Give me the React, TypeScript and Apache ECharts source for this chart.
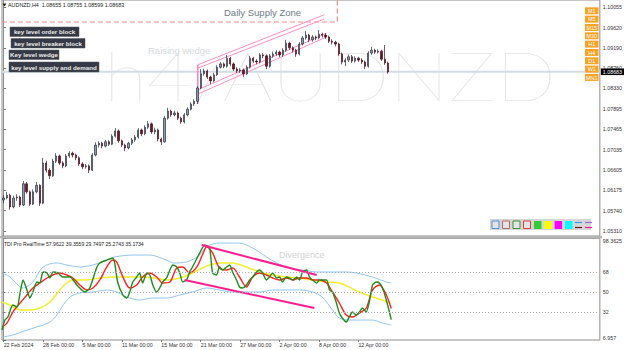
import React, { useEffect, useRef } from 'react';
import * as echarts from 'echarts';

const SYMBOL = 'AUDNZD,H4';
const HEADER_OHLC = ['1.08655', '1.08755', '1.08599', '1.08683'];
const CURRENT_PRICE = 1.08683;
const WATERMARK = 'h4/AUDNZD';
const TDI_HEADER = 'TDI Pro RealTime 57.9622 39.3559 29.7497 25.2743 35.1734';
const KEY_BUTTONS = ['key level order block', 'key level breaker block', 'Key level wedge', 'key level supply and demand'];
const TF_BUTTONS = ['M1', 'M5', 'M15', 'M30', 'H1', 'H4', 'D1', 'W1', 'MN1'];

const DATE_INDEX = [0, 12, 24, 36, 48, 60, 72, 84, 96, 108];
const DATE_LABELS = ['22 Feb 2024', '28 Feb 00:00', '5 Mar 00:00', '11 Mar 00:00', '15 Mar 00:00', '21 Mar 00:00', '27 Mar 00:00', '2 Apr 00:00', '8 Apr 00:00', '12 Apr 00:00'];
const PRICE_TICKS = [1.0531, 1.0574, 1.06175, 1.06605, 1.07035, 1.07465, 1.07895, 1.0833, 1.0876, 1.0919, 1.0962, 1.10055];
const PRICE_MIN = 1.05205;
const PRICE_MAX = 1.10203;
const TDI_TICKS = [6.957, 32, 50, 68, 98.3625];
const TDI_LEVELS = [68, 50, 32];
const SLOTS = 182;

const OPENS = [1.0597,1.0601,1.0607,1.0582,1.0601,1.0603,1.0586,1.0631,1.0614,1.0588,
1.0614,1.0628,1.0590,1.0675,1.0660,1.0648,1.0679,1.0690,1.0675,1.0669,
1.0690,1.0696,1.0692,1.0686,1.0673,1.0667,1.0669,1.0660,1.0692,1.0713,
1.0717,1.0711,1.0720,1.0715,1.0732,1.0743,1.0722,1.0713,1.0707,1.0717,
1.0724,1.0730,1.0745,1.0737,1.0751,1.0758,1.0741,1.0745,1.0726,1.0720,
1.0770,1.0785,1.0777,1.0781,1.0770,1.0762,1.0777,1.0789,1.0800,1.0806,
1.0834,1.0864,1.0870,1.0857,1.0849,1.0862,1.0878,1.0885,1.0880,1.0897,
1.0885,1.0874,1.0870,1.0872,1.0864,1.0878,1.0897,1.0891,1.0889,1.0904,
1.0902,1.0880,1.0902,1.0906,1.0910,1.0904,1.0914,1.0929,1.0919,1.0914,
1.0906,1.0927,1.0940,1.0946,1.0936,1.0942,1.0940,1.0948,1.0946,1.0942,
1.0933,1.0931,1.0927,1.0906,1.0889,1.0893,1.0900,1.0891,1.0897,1.0893,
1.0889,1.0880,1.0908,1.0914,1.0910,1.0912,1.0895,1.0887];
const CLOSES = [1.0601,1.0607,1.0582,1.0601,1.0603,1.0586,1.0631,1.0614,1.0588,1.0614,
1.0628,1.0590,1.0675,1.0660,1.0648,1.0679,1.0690,1.0675,1.0669,1.0690,
1.0696,1.0692,1.0686,1.0673,1.0667,1.0669,1.0660,1.0692,1.0713,1.0717,
1.0711,1.0720,1.0715,1.0732,1.0743,1.0722,1.0713,1.0707,1.0717,1.0724,
1.0730,1.0745,1.0737,1.0751,1.0758,1.0741,1.0745,1.0726,1.0720,1.0770,
1.0785,1.0777,1.0781,1.0770,1.0762,1.0777,1.0789,1.0800,1.0806,1.0834,
1.0864,1.0870,1.0857,1.0849,1.0862,1.0878,1.0885,1.0880,1.0897,1.0885,
1.0874,1.0870,1.0872,1.0864,1.0878,1.0897,1.0891,1.0889,1.0904,1.0902,
1.0880,1.0902,1.0906,1.0910,1.0904,1.0914,1.0929,1.0919,1.0914,1.0906,
1.0927,1.0940,1.0946,1.0936,1.0942,1.0940,1.0948,1.0946,1.0942,1.0933,
1.0931,1.0927,1.0906,1.0889,1.0893,1.0900,1.0891,1.0897,1.0893,1.0889,
1.0880,1.0908,1.0914,1.0910,1.0912,1.0895,1.0887,1.0868];
const LOWS = [1.0590,1.0598,1.0576,1.0579,1.0595,1.0582,1.0584,1.0610,1.0584,1.0586,
1.0611,1.0584,1.0588,1.0655,1.0641,1.0645,1.0675,1.0671,1.0664,1.0666,
1.0686,1.0687,1.0681,1.0669,1.0662,1.0663,1.0654,1.0658,1.0689,1.0708,
1.0706,1.0708,1.0711,1.0713,1.0729,1.0718,1.0709,1.0700,1.0704,1.0713,
1.0720,1.0727,1.0732,1.0734,1.0747,1.0737,1.0736,1.0721,1.0713,1.0718,
1.0767,1.0773,1.0774,1.0766,1.0758,1.0759,1.0774,1.0786,1.0796,1.0800,
1.0831,1.0860,1.0853,1.0842,1.0846,1.0859,1.0875,1.0876,1.0877,1.0881,
1.0870,1.0866,1.0866,1.0857,1.0861,1.0875,1.0887,1.0884,1.0886,1.0897,
1.0874,1.0877,1.0898,1.0902,1.0899,1.0900,1.0911,1.0915,1.0909,1.0900,
1.0903,1.0924,1.0936,1.0931,1.0932,1.0935,1.0937,1.0941,1.0938,1.0929,
1.0926,1.0922,1.0902,1.0884,1.0880,1.0889,1.0887,1.0888,1.0889,1.0885,
1.0874,1.0877,1.0904,1.0906,1.0907,1.0891,1.0883,1.0864];
const HIGHS = [1.0608,1.0614,1.0610,1.0606,1.0609,1.0606,1.0637,1.0635,1.0617,1.0619,
1.0635,1.0630,1.0686,1.0680,1.0664,1.0684,1.0696,1.0693,1.0679,1.0694,
1.0700,1.0699,1.0695,1.0689,1.0677,1.0673,1.0672,1.0696,1.0719,1.0721,
1.0720,1.0724,1.0723,1.0736,1.0749,1.0746,1.0725,1.0716,1.0720,1.0728,
1.0734,1.0749,1.0748,1.0755,1.0764,1.0761,1.0750,1.0748,1.0729,1.0775,
1.0792,1.0788,1.0786,1.0784,1.0773,1.0781,1.0793,1.0804,1.0810,1.0838,
1.0874,1.0875,1.0873,1.0860,1.0866,1.0882,1.0889,1.0888,1.0904,1.0900,
1.0888,1.0878,1.0876,1.0875,1.0882,1.0902,1.0900,1.0895,1.0908,1.0908,
1.0905,1.0906,1.0911,1.0914,1.0913,1.0918,1.0936,1.0932,1.0922,1.0917,
1.0931,1.0944,1.0955,1.0949,1.0946,1.0945,1.0957,1.0951,1.0950,1.0945,
1.0937,1.0934,1.0930,1.0909,1.0897,1.0905,1.0904,1.0901,1.0900,1.0897,
1.0892,1.0912,1.0921,1.0917,1.0916,1.0915,1.0925,1.0890];

// TDI lines: [bar index, value]
const TDI_UPPER = [[-0.5,67.2],[1.9,63.6],[5.9,53.7],[8.9,59.1],[12.0,72.6],[16.2,76.2],[19.2,74.4],[23.2,72.6],[27.2,74.4],[31.4,78.8],[33.8,81.6],[39.3,83.3],[44.5,83.3],[49.6,78.8],[51.5,76.2],[55.7,77.1],[59.7,83.3],[61.8,91.0],[65.7,94.1],[71.8,94.1],[75.8,89.6],[80.0,81.6],[83.1,76.2],[87.0,71.7],[91.0,69.9],[95.3,68.1],[100.1,68.1],[104.3,68.1],[107.4,67.2],[112.3,63.6],[116.5,59.1],[118.0,58.2]];
const TDI_LOWER = [[-0.5,9.6],[2.8,11.4],[7.1,15.9],[10.1,18.6],[14.1,23.1],[16.2,29.4],[17.7,36.6],[20.2,45.6],[23.2,49.2],[27.2,50.1],[31.4,51.9],[34.4,50.1],[37.5,45.6],[41.4,42.9],[45.4,44.7],[49.6,44.7],[53.6,47.4],[57.5,50.1],[61.8,53.7],[65.7,51.9],[69.7,50.1],[77.9,50.1],[81.9,51.9],[90.1,51.9],[94.0,50.1],[97.0,45.6],[100.1,33.9],[102.2,26.7],[105.2,24.9],[112.3,24.9],[115.3,22.2],[118.0,20.4]];
const TDI_BASE = [[-0.5,41.1],[1.9,38.4],[5.0,33.9],[8.0,33.9],[11.0,35.7],[14.1,41.1],[17.1,51.9],[19.2,58.2],[21.1,60.9],[25.3,60.9],[29.3,62.7],[33.2,63.6],[41.4,63.6],[45.4,62.7],[49.6,60.9],[53.6,62.7],[57.5,67.2],[60.6,71.7],[62.7,74.4],[65.7,76.2],[69.7,76.2],[73.9,72.6],[77.9,68.1],[81.9,65.4],[86.1,63.6],[90.1,62.7],[94.0,60.9],[98.3,59.1],[102.2,58.2],[105.2,54.6],[108.3,50.1],[112.3,45.6],[115.3,42.9],[117.4,40.2]];
const TDI_SIGNAL = [[-0.5,18.6],[1.0,22.2],[2.8,32.1],[5.0,40.2],[7.1,47.4],[8.9,53.7],[11.0,58.2],[13.2,62.7],[15.0,65.4],[17.1,67.2],[19.2,65.4],[21.1,62.7],[23.2,56.4],[25.3,51.9],[27.2,53.7],[29.3,60.9],[31.4,72.6],[33.2,78.8],[34.4,77.1],[36.3,63.6],[38.4,53.7],[40.5,56.4],[42.3,63.6],[44.5,67.2],[46.6,63.6],[48.4,58.2],[50.6,59.1],[52.7,71.7],[54.5,72.6],[56.6,67.2],[58.8,72.6],[60.6,84.0],[61.8,90.5],[63.6,85.2],[65.7,71.7],[67.9,69.9],[69.7,71.7],[71.8,63.6],[73.9,54.6],[75.8,63.6],[77.9,67.2],[80.0,65.4],[81.9,62.7],[84.0,60.9],[86.1,62.7],[88.0,60.9],[90.1,62.7],[92.2,62.7],[94.0,60.9],[96.1,60.9],[98.3,58.2],[100.1,50.1],[102.2,40.2],[104.3,29.4],[106.2,27.6],[108.3,31.2],[110.4,35.7],[112.3,51.9],[114.4,56.4],[116.5,47.4],[118.0,35.2]];
const TDI_RSI = [[-0.5,15.9],[0.4,24.9],[1.3,27.6],[2.8,38.4],[4.1,36.6],[5.0,49.2],[5.9,60.9],[7.1,51.9],[8.0,44.7],[8.9,50.1],[10.1,59.1],[11.0,58.2],[12.0,68.1],[13.2,67.2],[14.1,62.7],[15.0,68.1],[16.5,67.2],[18.0,63.6],[20.2,63.6],[22.3,56.4],[23.8,51.9],[24.7,50.1],[26.2,53.7],[28.4,72.6],[29.3,76.2],[31.4,78.8],[33.2,80.7],[33.8,76.2],[34.7,59.1],[36.3,47.4],[37.5,44.7],[38.4,50.1],[39.3,59.1],[40.5,63.6],[41.4,67.2],[42.3,58.2],[43.6,67.2],[44.5,65.4],[45.4,56.4],[46.6,50.1],[47.5,53.7],[48.4,59.1],[49.6,62.7],[50.6,69.9],[51.5,74.4],[52.7,72.6],[53.6,67.2],[54.5,59.1],[55.7,60.9],[56.6,68.1],[57.5,72.6],[59.7,85.2],[61.2,92.3],[62.7,89.6],[63.6,67.2],[64.8,65.4],[65.7,72.6],[66.7,69.9],[67.9,72.6],[68.8,74.4],[69.7,68.1],[70.9,60.9],[71.8,54.6],[72.7,53.7],[73.9,56.4],[74.9,60.9],[75.8,63.6],[77.0,68.1],[77.9,69.9],[78.8,67.2],[80.0,60.9],[80.9,63.6],[81.9,67.2],[83.1,62.7],[84.0,63.6],[84.9,59.1],[86.1,63.6],[87.0,62.7],[88.0,60.9],[89.2,63.6],[90.1,60.9],[91.0,68.1],[92.2,69.9],[93.1,63.6],[94.0,60.9],[95.3,58.2],[96.1,60.9],[98.3,60.9],[99.2,51.9],[100.1,50.1],[101.3,40.2],[102.2,31.2],[103.1,26.7],[104.3,23.1],[105.2,27.6],[106.2,32.1],[107.4,29.4],[108.3,32.1],[109.2,35.7],[110.4,32.1],[111.3,41.1],[112.3,56.4],[113.5,59.1],[114.4,58.2],[115.3,53.7],[116.5,42.9],[118.0,25.3]];

// hand-drawn objects, in [bar index, price] / [bar index, value]
const WEDGE_UPPER_A = [[59.1, 1.0883], [97.6, 1.0989]];
const WEDGE_UPPER_B = [[59.1, 1.0876], [97.6, 1.0980]];
const WEDGE_LOWER_A = [[59.1, 1.0830], [98.3, 1.0950]];
const WEDGE_LOWER_B = [[59.1, 1.0821], [98.3, 1.0942]];
const WEDGE_EDGE = [[59.1, 1.0883], [59.1, 1.0800]];
const SUPPLY_ZONE = [[-0.5, 1.09737], [101.6, 1.09737], [101.6, 1.10203]];
const DIV_UPPER = [[60.3, 92.3], [95.3, 65.4]];
const DIV_LOWER = [[55.1, 60.9], [94.6, 35.7]];

const FONT = 'Liberation Sans, Arial, sans-serif';

export default function App() {
  const ref = useRef<HTMLDivElement>(null);
  useEffect(() => {
    document.body.style.margin = '0';
    const chart = echarts.init(ref.current!, null, { renderer: 'svg' });
    const candles = OPENS.map((o, i) => [i, o, CLOSES[i], LOWS[i], HIGHS[i]]);

    const line = (data: number[][], color: string, width: number, grid: number, extra: any = {}) => ({
      type: 'line', data, xAxisIndex: grid, yAxisIndex: grid, symbol: 'none', silent: true,
      lineStyle: { color, width }, z: 3, ...extra,
    });

    const graphic: any[] = [];
    graphic.push({
      type: 'text', x: 104, y: 75, scaleX: 1.15, z: 0, silent: true,
      style: { text: WATERMARK, fontSize: 69, fontFamily: 'Lato, sans-serif', fontWeight: 200, fill: '#e4e4e4', textAlign: 'left', textVerticalAlign: 'middle' },
    });
    graphic.push({ type: 'polygon', shape: { points: [[2.5, 3.5], [6.5, 3.5], [4.5, 6.5]] }, style: { fill: '#222' }, z: 50 });
    graphic.push({ type: 'text', x: 8, y: 5, z: 50, style: { text: SYMBOL + '  ' + HEADER_OHLC.join(' '), fontSize: 5.4, fontFamily: FONT, fill: '#222', textVerticalAlign: 'middle' } });
    graphic.push({ type: 'text', x: 4, y: 244, z: 50, style: { text: TDI_HEADER, fontSize: 5.1, fontFamily: FONT, fill: '#222', textVerticalAlign: 'middle' } });
    graphic.push({ type: 'text', x: 224, y: 12, z: 50, style: { text: 'Daily Supply Zone', fontSize: 9.5, fontFamily: FONT, fill: '#6d7a88', textVerticalAlign: 'middle' } });
    graphic.push({ type: 'text', x: 148, y: 50, z: 1, style: { text: 'Raising wedge', fontSize: 9.5, fontFamily: FONT, fill: '#d6d9dd', textVerticalAlign: 'middle' } });
    graphic.push({ type: 'text', x: 279, y: 255, z: 1, style: { text: 'Divergence', fontSize: 9, fontFamily: FONT, fill: '#d3d3d3', textVerticalAlign: 'middle' } });

    const boxes = [[10, 27, 69, 9.5], [11, 38.5, 74, 9.5], [9, 50, 50, 9.5], [9, 62, 90, 10]];
    KEY_BUTTONS.forEach((t, k) => {
      const [bx, by, bw, bh] = boxes[k];
      graphic.push({ type: 'rect', shape: { x: bx, y: by, width: bw, height: bh }, style: { fill: '#363a46', stroke: '#50545e', lineWidth: 0.5 }, z: 60 });
      graphic.push({ type: 'text', x: bx + bw / 2, y: by + bh / 2, z: 61, style: { text: t, fontSize: 6.2, fontWeight: 'bold', fontFamily: FONT, fill: '#ececec', textAlign: 'center', textVerticalAlign: 'middle' } });
    });

    TF_BUTTONS.forEach((t, k) => {
      const by = 7.3 + k * 8.33;
      graphic.push({ type: 'rect', shape: { x: 585, y: by, width: 13.5, height: 7 }, style: { fill: '#f7a325' }, z: 60 });
      graphic.push({ type: 'text', x: 591.75, y: by + 3.6, z: 61, style: { text: t, fontSize: 5.4, fontFamily: FONT, fill: '#ffffff', textAlign: 'center', textVerticalAlign: 'middle' } });
    });

    // colour palette panel
    graphic.push({ type: 'rect', shape: { x: 490, y: 219, width: 101, height: 11 }, style: { fill: '#d6d6d6' }, z: 60 });
    const outlined = ['#4f8fd8', '#b06a6a', '#3f8f3f', '#e03c3c'];
    outlined.forEach((c, k) => {
      graphic.push({ type: 'rect', shape: { x: 492 + k * 10.5, y: 221, width: 7, height: 7.5 }, style: { fill: '#e4e4e4', stroke: c, lineWidth: 1 }, z: 61 });
    });
    const filled = ['#33cc33', '#ffff00', '#ff00ff', '#00ffff'];
    filled.forEach((c, k) => {
      graphic.push({ type: 'rect', shape: { x: 534 + k * 10.3, y: 221, width: 7.5, height: 8 }, style: { fill: c }, z: 61 });
    });
    [['#3399ff', '#6a1010', 575], ['#9966cc', '#ff1493', 585]].forEach(([a, b, x]: any) => {
      graphic.push({ type: 'line', shape: { x1: x, y1: 222.5, x2: x + 7, y2: 222.5 }, style: { stroke: a, lineWidth: 1.2 }, z: 61 });
      graphic.push({ type: 'line', shape: { x1: x, y1: 227.5, x2: x + 7, y2: 227.5 }, style: { stroke: b, lineWidth: 1.2 }, z: 61 });
    });
    graphic.push({ type: 'rect', shape: { x: 0, y: 236, width: 602, height: 2.3 }, style: { fill: '#b4b4b4' }, z: 5 });

    const axisText = { fontSize: 5.3, fontFamily: FONT, color: '#333' };

    chart.setOption({
      animation: false,
      backgroundColor: '#ffffff',
      grid: [
        { left: 2, top: 0, width: 599, height: 236, show: true, borderColor: '#8e8e8e', borderWidth: 1 },
        { left: 2, top: 238.3, width: 599, height: 101.7, show: true, borderColor: '#8e8e8e', borderWidth: 1 },
      ],
      xAxis: [
        { type: 'value', gridIndex: 0, min: -0.5, max: SLOTS - 0.5, show: false },
        {
          type: 'value', gridIndex: 1, min: -0.5, max: SLOTS - 0.5,
          axisLine: { show: false }, splitLine: { show: false },
          axisTick: { show: true, customValues: DATE_INDEX, length: 2, lineStyle: { color: '#777' } },
          axisLabel: {
            customValues: DATE_INDEX, ...axisText, align: 'left', margin: 2,
            formatter: (v: number) => DATE_LABELS[DATE_INDEX.indexOf(Math.round(v))] ?? '',
          },
        },
      ],
      yAxis: [
        {
          type: 'value', gridIndex: 0, position: 'right', min: PRICE_MIN, max: PRICE_MAX,
          splitLine: { show: false }, axisLine: { show: true, lineStyle: { color: '#8e8e8e' } },
          axisTick: { show: true, customValues: PRICE_TICKS, length: 2.5, lineStyle: { color: '#777' } },
          axisLabel: { customValues: PRICE_TICKS, ...axisText, margin: 3, formatter: (v: number) => v.toFixed(5) },
        },
        {
          type: 'value', gridIndex: 1, position: 'right', min: TDI_TICKS[0], max: TDI_TICKS[TDI_TICKS.length - 1],
          splitLine: { show: false }, axisLine: { show: true, lineStyle: { color: '#8e8e8e' } },
          axisTick: { show: true, customValues: TDI_TICKS, length: 2.5, lineStyle: { color: '#777' } },
          axisLabel: {
            customValues: TDI_TICKS, ...axisText, margin: 3, formatter: (v: number) => String(v),
            verticalAlignMaxLabel: 'top', verticalAlignMinLabel: 'bottom',
          },
        },
      ],
      graphic,
      series: [
        line([[-0.5, CURRENT_PRICE], [SLOTS - 0.5, CURRENT_PRICE]], '#d3dce4', 2, 0, {
          z: 2,
          endLabel: {
            show: true, distance: 1, formatter: CURRENT_PRICE.toFixed(5), lineHeight: 5.6,
            backgroundColor: '#000', color: '#fff', fontSize: 5.3, fontFamily: FONT, padding: [0.6, 2, 0.4, 2],
          },
        }),
        {
          type: 'candlestick', data: candles, xAxisIndex: 0, yAxisIndex: 0, silent: true,
          encode: { x: 0, y: [1, 2, 3, 4] }, barWidth: 1.8, z: 4,
          itemStyle: { color: '#8c9bad', color0: '#6e1526', borderColor: '#27303c', borderColor0: '#4b0f19', borderWidth: 0.7 },
        },
        line(SUPPLY_ZONE, '#f28b8b', 1.2, 0, { lineStyle: { color: '#f28b8b', width: 1.2, type: [5, 3] } }),
        line(WEDGE_UPPER_A, '#ff8fc8', 1, 0),
        line(WEDGE_UPPER_B, '#ff8fc8', 1, 0),
        line(WEDGE_LOWER_A, '#ff8fc8', 1, 0),
        line(WEDGE_LOWER_B, '#ff8fc8', 1, 0),
        line(WEDGE_EDGE, '#ff7fbf', 1.5, 0),
        line(TDI_UPPER, '#8fc6f2', 1, 1, { smooth: 0.3 }),
        line(TDI_LOWER, '#8fc6f2', 1, 1, { smooth: 0.3 }),
        line(TDI_BASE, '#f4ee2c', 1.5, 1, {
          smooth: 0.3,
          markLine: {
            silent: true, symbol: ['none', 'none'], animation: false, label: { show: false },
            lineStyle: { color: '#a8a8a8', width: 1, type: [1, 2] },
            data: TDI_LEVELS.map((v) => ({ yAxis: v })),
          },
        }),
        line(TDI_SIGNAL, '#ff2020', 1.4, 1, { smooth: 0.3 }),
        line(TDI_RSI, '#1e8c1e', 1.4, 1, { smooth: 0.2 }),
        line(DIV_UPPER, '#ff1f8f', 2, 1),
        line(DIV_LOWER, '#ff1f8f', 2, 1),
      ],
    });
    return () => chart.dispose();
  }, []);
  return <div ref={ref} style={{ width: 625, height: 350 }} />;
}
